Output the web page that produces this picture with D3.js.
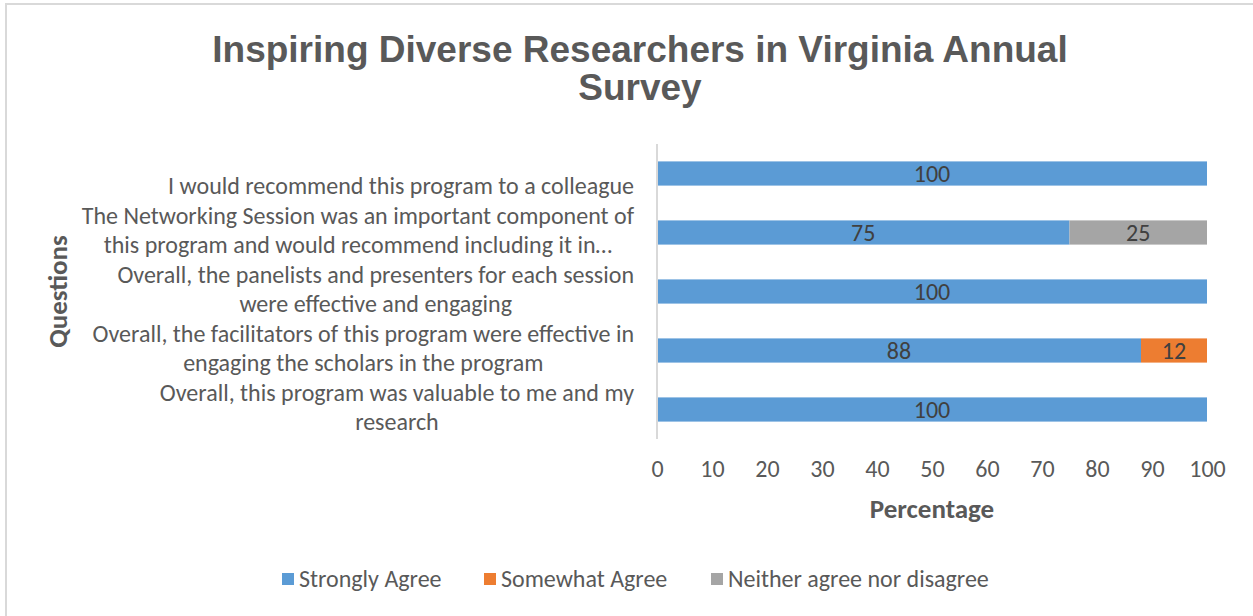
<!DOCTYPE html>
<html><head><meta charset="utf-8">
<script src="https://cdn.jsdelivr.net/npm/d3@7"></script>
<style>html,body{margin:0;padding:0;background:#fff;overflow:hidden}</style>
</head><body>
<svg id="c" width="1253" height="616"></svg>
<script>
const titleLines = ["Inspiring Diverse Researchers in Virginia Annual", "Survey"];
const questions = [
  ["", "I would recommend this program to a colleague"],
  ["The Networking Session was an important component of", "this program and would recommend including it in\u2026"],
  ["Overall, the panelists and presenters for each session", "were effective and engaging"],
  ["Overall, the facilitators of this program were effective in", "engaging the scholars in the program"],
  ["Overall, this program was valuable to me and my", "research"]
];
const seriesNames = ["Strongly Agree", "Somewhat Agree", "Neither agree nor disagree"];
const stronglyAgree = [100, 75, 100, 88, 100];
const somewhatAgree = [0, 0, 0, 12, 0];
const neitherAgree = [0, 25, 0, 0, 0];
const colors = ["#5B9BD5", "#ED7D31", "#A5A5A5"];
const xTicks = [0, 10, 20, 30, 40, 50, 60, 70, 80, 90, 100];

(function () {
const svg = d3.select("#c");
const W = 1253, H = 616;
svg.append("rect").attr("x", 0).attr("y", 0).attr("width", W).attr("height", H).attr("fill", "#fff");
svg.append("rect").attr("x", 6).attr("y", 4).attr("width", W + 20).attr("height", H + 20)
  .attr("fill", "none").attr("stroke", "#D9D9D9").attr("stroke-width", 2);

const title = svg.append("text").attr("text-anchor", "middle")
  .attr("font-family", "Liberation Sans, Arial, sans-serif").attr("font-weight", "bold")
  .attr("font-size", 37).attr("fill", "#595959");
titleLines.forEach((t, i) => {
  title.append("tspan").attr("x", 640).attr("y", 62 + i * 38).text(t);
});

const pLeft = 657, pRight = 1207, pTop = 144, pBottom = 439;
const x = d3.scaleLinear().domain([0, 100]).range([pLeft, pRight]);
const y = d3.scaleBand().domain(d3.range(questions.length).map(String)).range([pTop, pBottom]).paddingInner(0.59).paddingOuter(0.295);

const stackData = questions.map((q, i) => ({ i: String(i), s0: stronglyAgree[i], s1: somewhatAgree[i], s2: neitherAgree[i] }));
const layers = d3.stack().keys(["s0", "s1", "s2"])(stackData);

const fontBody = "Carlito, Lato, 'Open Sans', sans-serif";

layers.forEach((layer, li) => {
  const g = svg.append("g");
  layer.forEach(d => {
    const v = d[1] - d[0];
    if (v <= 0) return;
    g.append("rect")
      .attr("x", x(d[0])).attr("y", y(d.data.i))
      .attr("width", x(d[1]) - x(d[0])).attr("height", y.bandwidth())
      .attr("fill", colors[li]);
    g.append("text")
      .attr("x", (x(d[0]) + x(d[1])) / 2).attr("y", y(d.data.i) + y.bandwidth() / 2)
      .attr("dy", "0.36em").attr("text-anchor", "middle")
      .attr("font-family", fontBody).attr("font-size", 24).attr("fill", "#404040")
      .text(v);
  });
});

svg.append("line").attr("x1", pLeft).attr("x2", pLeft).attr("y1", pTop).attr("y2", pBottom)
  .attr("stroke", "#D9D9D9").attr("stroke-width", 2);

const xAxis = d3.axisBottom(x).tickValues(xTicks).tickSize(0).tickPadding(0);
const gx = svg.append("g").attr("transform", `translate(0,${pBottom + 21})`).call(xAxis);
gx.select(".domain").remove();
gx.selectAll("text").attr("font-family", fontBody).attr("font-size", 24).attr("fill", "#595959");

svg.append("text").attr("x", (pLeft + pRight) / 2).attr("y", 518).attr("text-anchor", "middle")
  .attr("font-family", fontBody).attr("font-weight", "bold").attr("font-size", 27).attr("fill", "#595959")
  .text("Percentage");

const lineH = 29.5;
questions.forEach((q, i) => {
  const cy = y(String(i)) + y.bandwidth() / 2 - 2.5;
  const t = svg.append("text").attr("font-family", fontBody).attr("font-size", 24).attr("fill", "#595959")
    .attr("text-anchor", "middle");
  const n = q.length;
  const tsp = q.map((ln, k) => t.append("tspan").attr("y", cy + (k - (n - 1) / 2) * lineH).attr("dy", "0.35em").text(ln));
  const widths = tsp.map(s => s.node().getComputedTextLength());
  const maxW = Math.max(...widths);
  const cx = 634 - maxW / 2;
  tsp.forEach(s => s.attr("x", cx));
});

svg.append("text").attr("transform", `translate(67,${(pTop + pBottom) / 2}) rotate(-90)`)
  .attr("text-anchor", "middle").attr("font-family", fontBody).attr("font-weight", "bold")
  .attr("font-size", 27).attr("fill", "#595959").text("Questions");

const legendX = [282, 484, 711];
seriesNames.forEach((s, i) => {
  svg.append("rect").attr("x", legendX[i]).attr("y", 573).attr("width", 12).attr("height", 12).attr("fill", colors[i]);
  svg.append("text").attr("x", legendX[i] + 17).attr("y", 579).attr("dy", "0.35em")
    .attr("font-family", fontBody).attr("font-size", 24).attr("fill", "#595959").text(s);
});
})();
</script>
</body></html>
